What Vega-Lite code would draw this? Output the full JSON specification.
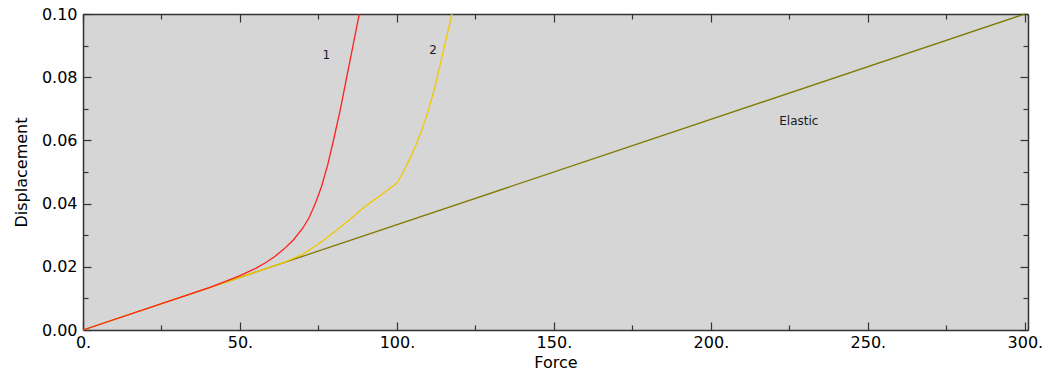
{
  "$schema": "https://vega.github.io/schema/vega-lite/v6.json",
  "width": 945,
  "height": 316,
  "autosize": {"type": "none"},
  "padding": {"left": 83, "top": 14, "right": 20, "bottom": 47},
  "background": "white",
  "config": {
    "view": {"fill": "#d6d6d6", "stroke": null},
    "axis": {
      "grid": false,
      "domainColor": "#333333",
      "domainWidth": 1.5,
      "tickColor": "#333333",
      "tickWidth": 1.2,
      "labelFont": "DejaVu Sans",
      "labelFontSize": 16,
      "labelColor": "#000000",
      "titleFont": "DejaVu Sans",
      "titleFontSize": 16,
      "titleFontWeight": "normal",
      "titleColor": "#000000"
    }
  },
  "datasets": {
    "curves": [
      {"series": "Elastic", "F": 0, "D": 0},
      {"series": "Elastic", "F": 300, "D": 0.1},
      {"series": "2", "F": 0, "D": 0},
      {"series": "2", "F": 60, "D": 0.0200},
      {"series": "2", "F": 65, "D": 0.0218},
      {"series": "2", "F": 70, "D": 0.0240},
      {"series": "2", "F": 75, "D": 0.0272},
      {"series": "2", "F": 80, "D": 0.0310},
      {"series": "2", "F": 85, "D": 0.0350},
      {"series": "2", "F": 90, "D": 0.0392},
      {"series": "2", "F": 95, "D": 0.0428},
      {"series": "2", "F": 100, "D": 0.0465},
      {"series": "2", "F": 102, "D": 0.0500},
      {"series": "2", "F": 104, "D": 0.0540},
      {"series": "2", "F": 106, "D": 0.0585},
      {"series": "2", "F": 108, "D": 0.0635},
      {"series": "2", "F": 110, "D": 0.0695},
      {"series": "2", "F": 112, "D": 0.0765},
      {"series": "2", "F": 114, "D": 0.0850},
      {"series": "2", "F": 116, "D": 0.0935},
      {"series": "2", "F": 117.5, "D": 0.1000},
      {"series": "1", "F": 0, "D": 0},
      {"series": "1", "F": 40, "D": 0.0133},
      {"series": "1", "F": 45, "D": 0.0152},
      {"series": "1", "F": 50, "D": 0.0172},
      {"series": "1", "F": 55, "D": 0.0195},
      {"series": "1", "F": 58, "D": 0.0212},
      {"series": "1", "F": 61, "D": 0.0232},
      {"series": "1", "F": 64, "D": 0.0256},
      {"series": "1", "F": 67, "D": 0.0285},
      {"series": "1", "F": 70, "D": 0.0322},
      {"series": "1", "F": 72, "D": 0.0355},
      {"series": "1", "F": 74, "D": 0.0400},
      {"series": "1", "F": 76, "D": 0.0455},
      {"series": "1", "F": 78, "D": 0.0525},
      {"series": "1", "F": 80, "D": 0.0610},
      {"series": "1", "F": 82, "D": 0.0700},
      {"series": "1", "F": 84, "D": 0.0800},
      {"series": "1", "F": 86, "D": 0.0900},
      {"series": "1", "F": 88, "D": 0.1000}
    ],
    "labels": [
      {"text": "1", "F": 77.5, "D": 0.087},
      {"text": "2", "F": 111.5, "D": 0.0885},
      {"text": "Elastic", "F": 228, "D": 0.066}
    ]
  },
  "layer": [
    {
      "data": {"name": "curves"},
      "transform": [{"filter": "datum.series == 'Elastic'"}],
      "mark": {"type": "line", "color": "#7f7a00", "strokeWidth": 1.3},
      "encoding": {
        "x": {
          "field": "F", "type": "quantitative",
          "scale": {"domain": [0, 301], "nice": false},
          "axis": {
            "orient": "bottom",
            "title": "Force",
            "values": [0, 25, 50, 75, 100, 125, 150, 175, 200, 225, 250, 275, 300],
            "labelExpr": "datum.value % 50 == 0 ? datum.value + '.' : ''",
            "labelFlush": false,
            "labelPadding": 12,
            "tickSize": {"condition": {"test": "datum.value % 50 == 0", "value": -8}, "value": -5}
          }
        },
        "y": {
          "field": "D", "type": "quantitative",
          "scale": {"domain": [0, 0.1], "nice": false},
          "axis": {
            "orient": "left",
            "title": "Displacement",
            "values": [0, 0.01, 0.02, 0.03, 0.04, 0.05, 0.06, 0.07, 0.08, 0.09, 0.1],
            "labelExpr": "round(datum.value * 100) % 2 == 0 ? format(datum.value, '.2f') : ''",
            "labelPadding": 14,
            "titlePadding": 12,
            "tickSize": {"condition": {"test": "round(datum.value * 100) % 2 == 0", "value": -8}, "value": -5}
          }
        }
      }
    },
    {
      "data": {"name": "curves"},
      "transform": [{"filter": "datum.series == '2'"}],
      "mark": {"type": "line", "color": "#f0c800", "strokeWidth": 1.3},
      "encoding": {
        "x": {"field": "F", "type": "quantitative", "axis": null},
        "y": {"field": "D", "type": "quantitative", "axis": null}
      }
    },
    {
      "data": {"name": "curves"},
      "transform": [{"filter": "datum.series == '1'"}],
      "mark": {"type": "line", "color": "#ff2020", "strokeWidth": 1.3},
      "encoding": {
        "x": {"field": "F", "type": "quantitative", "axis": null},
        "y": {"field": "D", "type": "quantitative", "axis": null}
      }
    },
    {
      "data": {"name": "labels"},
      "mark": {"type": "text", "font": "DejaVu Sans", "fontSize": 12, "color": "#1a1a2a"},
      "encoding": {
        "x": {"field": "F", "type": "quantitative", "axis": null},
        "y": {"field": "D", "type": "quantitative", "axis": null},
        "text": {"field": "text"}
      }
    },
    {
      "data": {"name": "curves"},
      "transform": [{"filter": "datum.series == 'Elastic'"}],
      "mark": {"type": "line", "opacity": 0},
      "encoding": {
        "x": {
          "field": "F", "type": "quantitative",
          "axis": {
            "orient": "top",
            "title": null,
            "labels": false,
            "values": [0, 25, 50, 75, 100, 125, 150, 175, 200, 225, 250, 275, 300],
            "tickSize": {"condition": {"test": "datum.value % 50 == 0", "value": -8}, "value": -5}
          }
        },
        "y": {
          "field": "D", "type": "quantitative",
          "axis": {
            "orient": "right",
            "title": null,
            "labels": false,
            "values": [0, 0.01, 0.02, 0.03, 0.04, 0.05, 0.06, 0.07, 0.08, 0.09, 0.1],
            "tickSize": {"condition": {"test": "round(datum.value * 100) % 2 == 0", "value": -8}, "value": -5}
          }
        }
      }
    }
  ],
  "resolve": {"axis": {"x": "independent", "y": "independent"}}
}
